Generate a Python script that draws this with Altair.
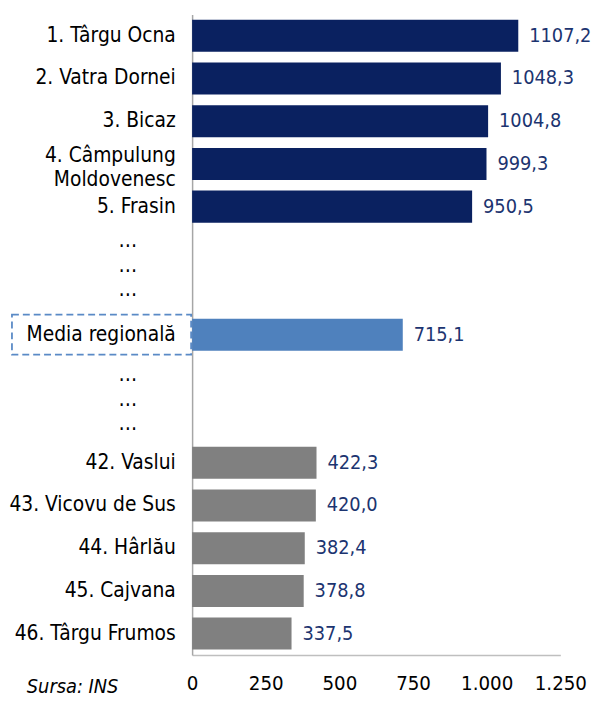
import altair as alt
import pandas as pd

# ---- data ----
categories = [
    "1. Târgu Ocna", "2. Vatra Dornei", "3. Bicaz", "4. Câmpulung|Moldovenesc",
    "5. Frasin", "…|…|…", " ", "Media regională", "…|…|… ", "  ",
    "42. Vaslui", "43. Vicovu de Sus", "44. Hârlău", "45. Cajvana", "46. Târgu Frumos",
]
bar_categories = [
    "1. Târgu Ocna", "2. Vatra Dornei", "3. Bicaz", "4. Câmpulung|Moldovenesc",
    "5. Frasin", "Media regională",
    "42. Vaslui", "43. Vicovu de Sus", "44. Hârlău", "45. Cajvana", "46. Târgu Frumos",
]
values = [1107.2, 1048.3, 1004.8, 999.3, 950.5, 715.1, 422.3, 420.0, 382.4, 378.8, 337.5]
groups = ["top"] * 5 + ["media"] + ["bottom"] * 5
x_ticks = [0, 250, 500, 750, 1000, 1250]

df = pd.DataFrame({
    "cat": bar_categories,
    "value": values,
    "group": groups,
    "label": [f"{v:.1f}".replace(".", ",") for v in values],
})

FONT = "DejaVu Sans Condensed, DejaVu Sans"
NAVY = "#0A2160"
LABEL_NAVY = "#1C3470"
BLUE = "#4F81BD"
GRAY = "#808080"

y_enc = alt.Y(
    "cat:N",
    sort=categories,
    scale=alt.Scale(domain=categories, paddingInner=0.25, paddingOuter=0.125),
    axis=alt.Axis(
        title=None,
        ticks=False,
        domainColor="#A6A6A6",
        domainWidth=1.5,
        labelExpr="split(datum.value, '|')",
        labelLineHeight=24.5,
        labelFont=FONT,
        labelFontSize=21,
        labelColor="#000000",
        labelLimit=300,
        labelPadding={"condition": {"test": "indexof(datum.value, '…') == 0", "value": 56}, "value": 17},
        labelOffset={
            "condition": [
                {"test": "datum.value == '…|…|… '", "value": -2},
                {"test": "indexof(datum.value, '|') >= 0", "value": -8},
            ],
            "value": 0,
        },
    ),
)

x_enc = alt.X(
    "value:Q",
    scale=alt.Scale(domain=[0, 1250], nice=False),
    axis=alt.Axis(
        title=None,
        values=x_ticks,
        ticks=False,
        grid=False,
        domainColor="#BFBFBF",
        domainWidth=1.5,
        labelExpr="replace(format(datum.value, ','), ',', '.')",
        labelFont=FONT,
        labelFontSize=20.5,
        labelColor="#000000",
        labelPadding=19,
        labelFlush=False,
    ),
)

base = alt.Chart(df)

bars = base.mark_bar().encode(
    y=y_enc,
    x=x_enc,
    color=alt.Color(
        "group:N",
        scale=alt.Scale(domain=["top", "media", "bottom"], range=[NAVY, BLUE, GRAY]),
        legend=None,
    ),
)

texts = base.mark_text(
    align="left", baseline="middle", dx=11, font=FONT, fontSize=20, color=LABEL_NAVY
).encode(y=alt.Y("cat:N", sort=categories), x="value:Q", text="label:N")

box_df = pd.DataFrame({"cat": ["Media regională"]})
box = alt.Chart(box_df).mark_rect(
    fill="transparent",
    stroke="#5A8AC6",
    strokeWidth=1.8,
    strokeDash=[7, 4],
    height={"band": 1.25},
).encode(
    y=alt.Y("cat:N", sort=categories),
    x=alt.value(-182),
    x2=alt.value(-1),
)

src_df = pd.DataFrame({"t": ["Sursa: INS"]})
source = alt.Chart(src_df).mark_text(
    align="left", baseline="middle", font=FONT, fontSize=20, fontStyle="italic", color="#000000"
).encode(text="t:N", x=alt.value(-167), y=alt.value(679))

chart = alt.layer(bars, texts, box, source).properties(
    width=372,
    height=647,
    autosize=alt.AutoSizeParams(type="none"),
    padding={"left": 186, "top": 3, "right": 34, "bottom": 46},
).configure_view(stroke=None)

chart.save("out.html", embed_options={"renderer": "svg", "actions": False})
